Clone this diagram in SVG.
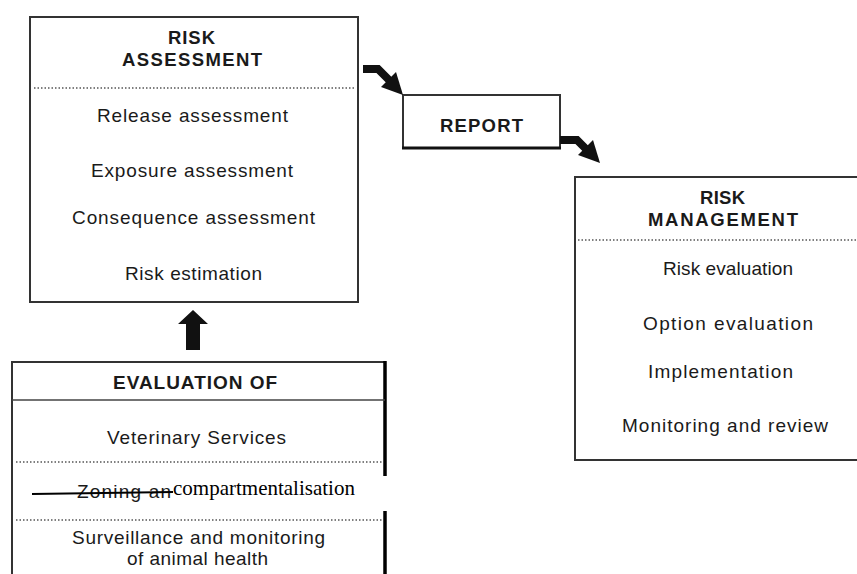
<svg xmlns="http://www.w3.org/2000/svg" width="857" height="574" viewBox="0 0 857 574">
<style>
.box{fill:#fff;stroke:#333;stroke-width:2}
.dot{stroke:#555;stroke-width:1.5;stroke-dasharray:1.5 2;fill:none}
.t{font-family:"Liberation Sans",Arial,sans-serif;font-size:19px;fill:#1a1a1a}
.b{font-family:"Liberation Sans",Arial,sans-serif;font-size:18.5px;font-weight:bold;fill:#1a1a1a}
.s{font-family:"Liberation Serif","Times New Roman",serif;font-size:21px;fill:#000}
.arr{fill:#111;stroke:none}
.sh{fill:none;stroke:#111;stroke-width:8}
</style>
<rect width="857" height="574" fill="#fff"/>
<g id="risk-assessment">
<rect class="box" x="30" y="17" width="328" height="285"/>
<text class="b" x="168" y="44" textLength="47" lengthAdjust="spacing">RISK</text>
<text class="b" x="122" y="66" textLength="140" lengthAdjust="spacing">ASSESSMENT</text>
<line class="dot" x1="34" y1="88" x2="356" y2="88"/>
<text class="t" x="97" y="122" textLength="191" lengthAdjust="spacing">Release assessment</text>
<text class="t" x="91" y="177" textLength="202" lengthAdjust="spacing">Exposure assessment</text>
<text class="t" x="72" y="224" textLength="243" lengthAdjust="spacing">Consequence assessment</text>
<text class="t" x="125" y="280" textLength="137" lengthAdjust="spacing">Risk estimation</text>
</g>
<g id="report">
<rect class="box" x="403" y="95" width="157" height="53"/>
<line x1="402" y1="148" x2="561" y2="148" stroke="#111" stroke-width="3"/>
<text class="b" x="440" y="132" textLength="83" lengthAdjust="spacing" style="font-weight:600">REPORT</text>
</g>
<g id="risk-management">
<rect class="box" x="575" y="177" width="300" height="283"/>
<text class="b" x="700" y="204" textLength="45" lengthAdjust="spacing">RISK</text>
<text class="b" x="648" y="226" textLength="150" lengthAdjust="spacing">MANAGEMENT</text>
<line class="dot" x1="578" y1="240" x2="857" y2="240"/>
<text class="t" x="663" y="275" textLength="130" lengthAdjust="spacing">Risk evaluation</text>
<text class="t" x="643" y="330" textLength="170" lengthAdjust="spacing">Option evaluation</text>
<text class="t" x="648" y="378" textLength="145" lengthAdjust="spacing">Implementation</text>
<text class="t" x="622" y="432" textLength="206" lengthAdjust="spacing">Monitoring and review</text>
</g>
<g id="evaluation">
<rect class="box" x="12" y="362" width="373" height="230"/>
<line x1="385" y1="361" x2="385" y2="574" stroke="#000" stroke-width="3.5"/>
<line x1="12" y1="400" x2="385" y2="400" stroke="#444" stroke-width="1.5"/>
<text class="t" x="113" y="389" textLength="164" lengthAdjust="spacing" style="font-weight:600">EVALUATION OF</text>
<text class="t" x="107" y="444" textLength="179" lengthAdjust="spacing">Veterinary Services</text>
<line class="dot" x1="16" y1="462" x2="382" y2="462"/>
<text class="t" x="77" y="498" textLength="94" lengthAdjust="spacing">Zoning an</text>
<rect x="172" y="476" width="222" height="35" fill="#fff"/>
<line x1="32" y1="494" x2="173" y2="492" stroke="#000" stroke-width="2"/>
<text class="s" x="173" y="495">compartmentalisation</text>
<line class="dot" x1="16" y1="520" x2="382" y2="520"/>
<text class="t" x="72" y="544" textLength="253" lengthAdjust="spacing">Surveillance and monitoring</text>
<text class="t" x="127" y="565" textLength="141" lengthAdjust="spacing">of animal health</text>
</g>
<g id="connectors">
<path class="sh" d="M363,69 L378,69 L390,81"/>
<polygon class="arr" points="403,95 381,87 396,72"/>
<path class="sh" d="M560,140 L577,140 L587,150"/>
<polygon class="arr" points="600,163 578,155 593,140"/>
<polygon class="arr" points="193,310 178,324 186,324 186,350 200,350 200,324 208,324"/>
</g>
</svg>
